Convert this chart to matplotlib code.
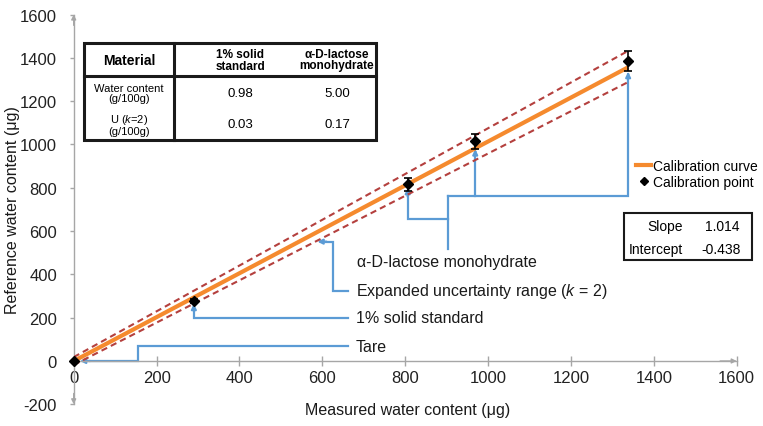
import matplotlib
matplotlib.use("Agg")
import matplotlib.pyplot as plt
from matplotlib.patches import Rectangle
from matplotlib.lines import Line2D

plt.rcParams['font.family'] = ['Liberation Sans', 'DejaVu Sans']
plt.rcParams['mathtext.fontset'] = 'custom'
plt.rcParams['mathtext.rm'] = 'Liberation Sans'
plt.rcParams['mathtext.it'] = 'Liberation Sans:italic'

# ---- data ----
measured = [0, 290, 806, 969, 1338]
reference = [0, 278, 815, 1014, 1385]
ref_err = [0, 10, 32, 35, 45]
slope = 1.014
intercept = -0.438
band_x = [0, 1338]
band_upper = [18, 1432]
band_lower = [-18, 1288]
x_ticks = [0, 200, 400, 600, 800, 1000, 1200, 1400, 1600]
y_ticks = [-200, 0, 200, 400, 600, 800, 1000, 1200, 1400, 1600]
table_cols = ["Material", "1% solid\nstandard", "α-D-lactose\nmonohydrate"]
table_rows = ["Water content\n(g/100g)", "U ($\\mathit{k}$=2)\n(g/100g)"]
table_vals = [["0.98", "5.00"], ["0.03", "0.17"]]

W, H = 763, 427
fig = plt.figure(figsize=(W / 100, H / 100), dpi=100)
def fx(x): return x / W
def fy(y): return 1 - y / H

ax = fig.add_axes([fx(73.7), fy(405.3), (736.7 - 73.7) / W, (405.3 - 15.5) / H])
ax.set_xlim(0, 1600)
ax.set_ylim(-200, 1600)
ax.patch.set_alpha(0)

grey = '#a6a6a6'
for s in ['top', 'right']:
    ax.spines[s].set_visible(False)
ax.spines['left'].set_position(('data', 0))
ax.spines['bottom'].set_position(('data', 0))
ax.spines['left'].set_bounds(-200, 1600)
ax.spines['bottom'].set_bounds(0, 1600)
for s in ['left', 'bottom']:
    ax.spines[s].set_color(grey)
    ax.spines[s].set_linewidth(1)
    ax.spines[s].set_clip_on(False)
ax.set_xticks(x_ticks)
ax.set_yticks(y_ticks)
ax.set_xticklabels([str(t) for t in x_ticks])
ax.set_yticklabels([str(t) for t in y_ticks])
ax.tick_params(axis='x', direction='inout', length=7, width=1, color=grey,
               labelsize=12, labelcolor='#222222', pad=3)
ax.tick_params(axis='y', direction='out', length=3, width=1, color=grey,
               labelsize=12, labelcolor='#222222', pad=9)

# arrow heads on axes
ap = dict(arrowstyle='-|>', color=grey, lw=1, mutation_scale=7, shrinkA=0, shrinkB=0)
ax.annotate('', xy=(0, 1600), xytext=(0, 1550), arrowprops=ap, annotation_clip=False)
ax.annotate('', xy=(0, -200), xytext=(0, -150), arrowprops=ap, annotation_clip=False)
ax.annotate('', xy=(1600, 0), xytext=(1560, 0), arrowprops=ap, annotation_clip=False)

# connectors (blue)
blue = '#5b9bd5'
def conn(xs, ys, tip=None):
    ax.plot(xs, ys, color=blue, lw=1.6, clip_on=False, zorder=2, solid_joinstyle='miter')
    if tip is not None:
        ax.annotate('', xy=tip, xytext=(xs[-1], ys[-1]),
                    arrowprops=dict(arrowstyle='-|>', color=blue, lw=1.6,
                                    mutation_scale=7, shrinkA=0, shrinkB=0),
                    annotation_clip=False, zorder=2)

conn([663, 155, 155, 40], [69, 69, 0, 0], tip=(15, 0))
conn([663, measured[1], measured[1]], [199, 199, 240], tip=(measured[1], reference[1] - 14))
conn([663, 625, 625, 610], [324, 324, 551, 551], tip=(588, 551))
conn([904, 904], [518, 760])
conn([904, measured[2], measured[2]], [657, 657, 760], tip=(measured[2], reference[2] - 16))
conn([904, measured[4], measured[4]], [760, 760, 1320], tip=(measured[4], reference[4] - 50))
conn([measured[3], measured[3]], [760, 960], tip=(measured[3], reference[3] - 36))

# calibration line and uncertainty band
lx = [0, measured[-1]]
ly = [slope * v + intercept for v in lx]
ax.plot(lx, ly, color='#f58a2e', lw=3, zorder=3, solid_capstyle='butt')
ax.plot(band_x, band_upper, color='#b4403e', lw=1.5, ls=(0, (3, 2)), zorder=3)
ax.plot(band_x, band_lower, color='#b4403e', lw=1.5, ls=(0, (3, 2)), zorder=3)

ax.errorbar(measured, reference, yerr=ref_err, fmt='D', color='black', ms=5,
            ecolor='black', elinewidth=1.2, capsize=3, capthick=1.2, zorder=5, clip_on=False)

# annotation texts
tfs = 11.5
ax.text(683, 459, 'α-D-lactose monohydrate', fontsize=tfs, va='center', ha='left', color='#1a1a1a')
ax.text(681, 324, 'Expanded uncertainty range ($\\mathit{k}$ = 2)', fontsize=tfs, va='center', ha='left', color='#1a1a1a')
ax.text(681, 199, '1% solid standard', fontsize=tfs, va='center', ha='left', color='#1a1a1a')
ax.text(681, 69, 'Tare', fontsize=tfs, va='center', ha='left', color='#1a1a1a')

# axis labels
fig.text(fx(408), fy(411), 'Measured water content (μg)', fontsize=11.5, ha='center', va='center', color='#1a1a1a')
fig.text(fx(13), fy(210), 'Reference water content (μg)', fontsize=11.5, ha='center', va='center',
         rotation=90, color='#1a1a1a')

# legend
handles = [Line2D([], [], color='#f58a2e', lw=3),
           Line2D([], [], color='black', marker='D', ms=4, ls='none')]
leg = ax.legend(handles, ['Calibration curve', 'Calibration point'], loc='upper left',
                bbox_to_anchor=(fx(636), fy(160)), bbox_transform=fig.transFigure,
                frameon=False, fontsize=10, handlelength=1.1, handletextpad=0.15,
                labelspacing=0.15, borderpad=0, borderaxespad=0)

# slope box
fig.patches.append(Rectangle((fx(624), fy(261)), (752 - 624) / W, (261 - 214) / H,
                             transform=fig.transFigure, fill=False, ec='#1a1a1a', lw=1.5))
fig.text(fx(683), fy(227), 'Slope', fontsize=10, ha='right', va='center')
fig.text(fx(739), fy(227), f'{slope:.3f}', fontsize=10, ha='right', va='center')
fig.text(fx(683), fy(250), 'Intercept', fontsize=10, ha='right', va='center')
fig.text(fx(741), fy(250), f'{intercept:.3f}', fontsize=10, ha='right', va='center')

# table
tl, tr, tt, tb, th = 84, 376, 44, 141, 77
fig.patches.append(Rectangle((fx(tl), fy(tb)), (tr - tl) / W, (tb - tt) / H,
                             transform=fig.transFigure, fc='white', ec='#1a1a1a', lw=2.2, zorder=1))
fig.add_artist(Line2D([fx(tl), fx(tr)], [fy(th), fy(th)], color='#1a1a1a', lw=2.2))
fig.add_artist(Line2D([fx(174), fx(174)], [fy(tt), fy(tb)], color='#1a1a1a', lw=2.2))
col_cx = [129, 240, 337]
fig.text(fx(col_cx[0]), fy(61), table_cols[0], fontsize=10, fontweight='bold', ha='center', va='center')
for j in (1, 2):
    fig.text(fx(col_cx[j]), fy(60.5), table_cols[j], fontsize=8.5, fontweight='bold',
             ha='center', va='center', linespacing=1.0)
row_cy = [94, 125]
for i in range(2):
    fig.text(fx(col_cx[0]), fy(row_cy[i]), table_rows[i], fontsize=8, ha='center', va='center',
             linespacing=1.0)
    for j in range(2):
        fig.text(fx(col_cx[j + 1]), fy(row_cy[i]), table_vals[i][j],
                 fontsize=9.5, ha='center', va='center')

fig.savefig('out.png', dpi=100)
